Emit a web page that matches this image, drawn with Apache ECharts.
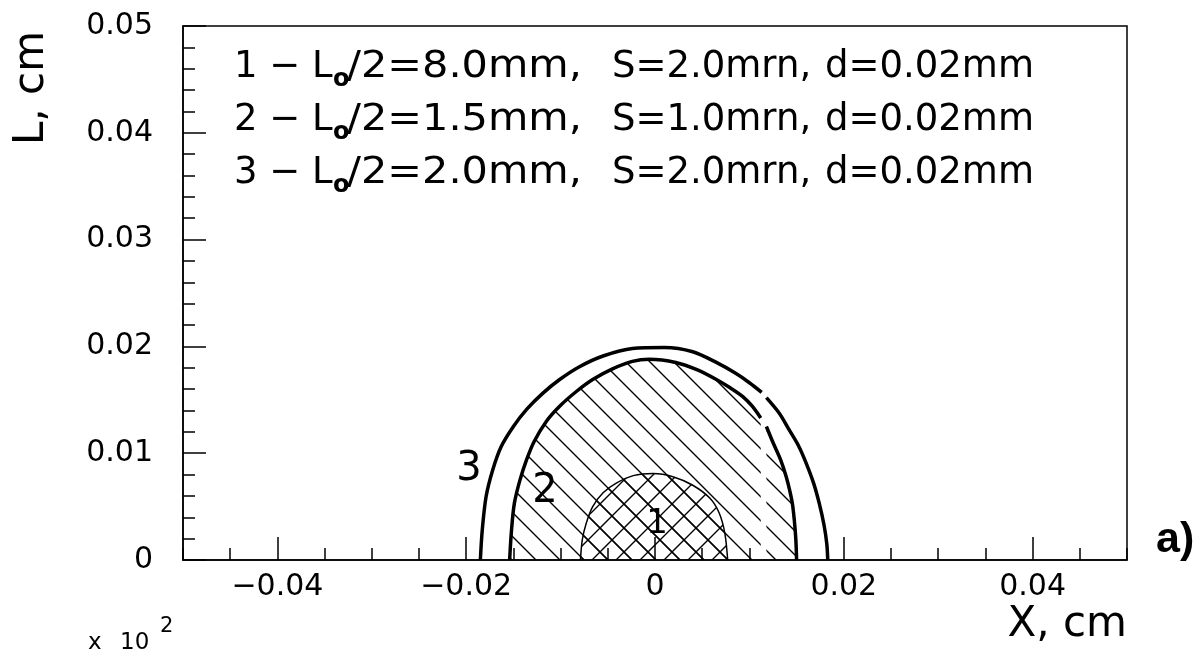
<!DOCTYPE html>
<html><head><meta charset="utf-8">
<script src="https://cdn.jsdelivr.net/npm/echarts@6/dist/echarts.min.js"></script>
<style>html,body{margin:0;padding:0;background:#fff;overflow:hidden}#chart{width:1204px;height:662px}</style>
</head><body><div id="chart"></div>
<script>
// ---- data ----
const curve1X = [-0.0079, -0.0077, -0.0073, -0.0066, -0.0055, -0.0041, -0.0023, -0.0002, 0.0019, 0.0040, 0.0058, 0.0068, 0.0074, 0.0077];
const curve1Y = [0, 0.0019, 0.0034, 0.0050, 0.0063, 0.0072, 0.0079, 0.0081, 0.0078, 0.0070, 0.0058, 0.0044, 0.0025, 0];

const curve2X = [-0.0154, -0.0152, -0.0149, -0.0143, -0.0136, -0.0128, -0.0115, -0.0101, -0.0083, -0.0066, -0.0045, -0.0024, -0.0006, 0.0022, 0.0045, 0.0065, 0.0080, 0.0093, 0.0103, 0.0112, 0.0115, 0.0118, 0.0125, 0.0133, 0.0139, 0.0143, 0.0146, 0.0149, 0.0150];
const curve2Y = [0, 0.0028, 0.0053, 0.0075, 0.0094, 0.0111, 0.0130, 0.0144, 0.0158, 0.0169, 0.0179, 0.0186, 0.0188, 0.0185, 0.0178, 0.0169, 0.0161, 0.0153, 0.0144, 0.0133, null, 0.0125, 0.0110, 0.0094, 0.0078, 0.0064, 0.0050, 0.0022, 0];

const curve3X = [-0.0185, -0.0183, -0.0179, -0.0172, -0.0163, -0.0150, -0.0136, -0.0119, -0.0101, -0.0080, -0.0055, -0.0024, 0.0010, 0.0040, 0.0065, 0.0085, 0.0100, 0.0113, 0.0115, 0.0118, 0.0132, 0.0142, 0.0152, 0.0160, 0.0168, 0.0174, 0.0179, 0.0182, 0.0183];
const curve3Y = [0, 0.0028, 0.0059, 0.0084, 0.0106, 0.0125, 0.0141, 0.0156, 0.0169, 0.0181, 0.0191, 0.0198, 0.0199, 0.0195, 0.0185, 0.0175, 0.0166, 0.0157, null, 0.0152, 0.0137, 0.0122, 0.0107, 0.0091, 0.0072, 0.0053, 0.0033, 0.0015, 0];

const xTickLabels = [-0.04, -0.02, 0, 0.02, 0.04];
const yTickLabels = [0, 0.01, 0.02, 0.03, 0.04, 0.05];

const legendNum = ['1', '2', '3'];
const legendHalfL = ['8.0', '1.5', '2.0'];
const legendS = ['2.0', '1.0', '2.0'];
const legendD = ['0.02', '0.02', '0.02'];
const curveNames = ['1', '2', '3'];

// ---- helpers ----
const zip = (xs, ys) => xs.map((x, i) => [x, ys[i]]);
const fmt = v => {
  if (Math.abs(v) < 1e-12) return '0';
  return (v < 0 ? '\u2212' : '') + Math.abs(v).toFixed(2);
};
function hatch(size, dirs, lw) {
  const c = document.createElement('canvas');
  c.width = size; c.height = size;
  const g = c.getContext('2d');
  g.strokeStyle = '#000'; g.lineWidth = lw;
  g.beginPath();
  for (const d of dirs) {
    for (const o of [-size, 0, size]) {
      if (d === 'back') { g.moveTo(o - 1, -1); g.lineTo(o + size + 1, size + 1); }
      else { g.moveTo(o - 1, size + 1); g.lineTo(o + size + 1, -1); }
    }
  }
  g.stroke();
  return c;
}
const hatchBack = { image: hatch(24, ['back'], 1.4), repeat: 'repeat' };
const hatchCross = { image: hatch(24, ['back', 'fwd'], 1.4), repeat: 'repeat' };

const FONT = 'DejaVu Sans';
const black = '#000';

// legend text pieces
const legendGraphics = [];
const lineY = [67, 120, 173];
legendNum.forEach((n, i) => {
  const y = lineY[i];
  const base = { fill: black, font: '37px "' + FONT + '"', verticalAlign: 'middle', align: 'left' };
  legendGraphics.push({ type: 'text', x: 234, y, style: Object.assign({}, base, { text: n + ' \u2212 L' }) });
  legendGraphics.push({ type: 'text', x: 333, y: y + 13, style: Object.assign({}, base, { text: 'o', font: 'bold 24px "' + FONT + '"' }) });
  legendGraphics.push({ type: 'text', x: 347, y, scaleX: 1.12, style: Object.assign({}, base, { text: '/2=' + legendHalfL[i] + 'mm,' }) });
  legendGraphics.push({ type: 'text', x: 612, y, style: Object.assign({}, base, { text: 'S=' + legendS[i] + 'mrn,' }) });
  legendGraphics.push({ type: 'text', x: 825, y, style: Object.assign({}, base, { text: 'd=' + legendD[i] + 'mm' }) });
});

const otherGraphics = [
  { type: 'text', x: 32, y: 88, rotation: Math.PI / 2,
    style: { text: 'L, cm', fill: black, font: '42px "' + FONT + '"', align: 'center', verticalAlign: 'middle' } },
  { type: 'text', x: 1127, y: 625,
    style: { text: 'X, cm', fill: black, font: '42px "' + FONT + '"', align: 'right', verticalAlign: 'middle' } },
  { type: 'text', x: 88, y: 643,
    style: { text: 'x', fill: black, font: '23px "' + FONT + '"', align: 'left', verticalAlign: 'middle' } },
  { type: 'text', x: 120, y: 643,
    style: { text: '10', fill: black, font: '23px "' + FONT + '"', align: 'left', verticalAlign: 'middle' } },
  { type: 'text', x: 160, y: 627,
    style: { text: '2', fill: black, font: '21px "' + FONT + '"', align: 'left', verticalAlign: 'middle' } },
  { type: 'text', x: 1156, y: 540,
    style: { text: 'a)', fill: black, font: 'bold 43px "Liberation Sans"', align: 'left', verticalAlign: 'middle' } },
  { type: 'text', x: 469, y: 470,
    style: { text: curveNames[2], fill: black, font: '40px "' + FONT + '"', align: 'center', verticalAlign: 'middle' } },
  { type: 'text', x: 545, y: 492,
    style: { text: curveNames[1], fill: black, font: '40px "' + FONT + '"', align: 'center', verticalAlign: 'middle' } },
  { type: 'text', x: 657, y: 524,
    style: { text: curveNames[0], fill: black, font: '34px "' + FONT + '"', align: 'center', verticalAlign: 'middle' } }
];

const axisLineStyle = { color: black, width: 1.5 };

const option = {
  animation: false,
  backgroundColor: '#fff',
  grid: { left: 183, right: 77, top: 26, bottom: 102, show: true, borderColor: black, borderWidth: 1.5,
          containLabel: false, outerBoundsMode: 'none' },
  xAxis: [
    { type: 'value', min: -0.05, max: 0.05, interval: 0.005,
      axisLine: { show: true, onZero: false, lineStyle: axisLineStyle },
      axisTick: { show: true, inside: true, length: 12, lineStyle: axisLineStyle },
      axisLabel: { show: false }, splitLine: { show: false } },
    { type: 'value', min: -0.05, max: 0.05, interval: 0.01, position: 'bottom',
      axisLine: { show: false },
      axisTick: { show: true, inside: true, length: 23, lineStyle: axisLineStyle, customValues: xTickLabels },
      axisLabel: { show: true, customValues: xTickLabels, formatter: fmt, color: black,
                   fontFamily: FONT, fontSize: 30, margin: 12 },
      splitLine: { show: false } }
  ],
  yAxis: [
    { type: 'value', min: 0, max: 0.05, interval: 0.01,
      axisLine: { show: true, onZero: false, lineStyle: axisLineStyle },
      axisTick: { show: true, inside: true, length: 23, lineStyle: axisLineStyle },
      minorTick: { show: true, splitNumber: 5, length: 12, lineStyle: axisLineStyle },
      axisLabel: { show: true, customValues: yTickLabels, formatter: fmt, color: black,
                   fontFamily: FONT, fontSize: 30, margin: 30 },
      splitLine: { show: false } }
  ],
  series: [
    { name: 'curve2', type: 'line', xAxisIndex: 0, yAxisIndex: 0, data: zip(curve2X, curve2Y),
      showSymbol: false, smooth: 0.3, connectNulls: false, z: 2,
      lineStyle: { color: black, width: 3.5 },
      areaStyle: { color: hatchBack, opacity: 1, origin: 'start' } },
    { name: 'curve1', type: 'line', xAxisIndex: 0, yAxisIndex: 0, data: zip(curve1X, curve1Y),
      showSymbol: false, smooth: 0.3, z: 3,
      lineStyle: { color: black, width: 1.5 },
      areaStyle: { color: hatchCross, opacity: 1, origin: 'start' } },
    { name: 'curve3', type: 'line', xAxisIndex: 0, yAxisIndex: 0, data: zip(curve3X, curve3Y),
      showSymbol: false, smooth: 0.3, connectNulls: false, z: 4,
      lineStyle: { color: black, width: 3.5 } }
  ],
  graphic: legendGraphics.concat(otherGraphics)
};

const chart = echarts.init(document.getElementById('chart'), null, { renderer: 'canvas' });
chart.setOption(option);
</script>
</body></html>
